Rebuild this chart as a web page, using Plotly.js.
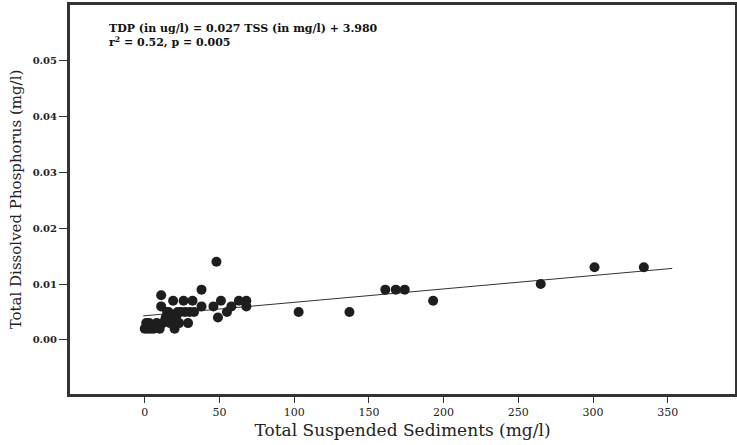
<!DOCTYPE html>
<html>
<head>
<meta charset="utf-8">
<script src="https://cdn.plot.ly/plotly-3.0.1.min.js"></script>
<style>
  html, body { margin: 0; padding: 0; background: #fff; }
  #chart { width: 737px; height: 445px; }
</style>
</head>
<body>
<div id="chart"></div>
<script>
// Total Suspended Sediments (mg/l)
const tss = [0, 1, 2, 3, 4, 6, 8, 10, 11, 11, 12, 14, 15, 16, 17, 18, 19, 20, 21, 22, 23, 24, 26, 27, 29, 30, 32, 33, 38, 38, 46, 48, 49, 51, 55, 58, 63, 68, 68, 103, 137, 161, 168, 174, 193, 265, 301, 334];
// Total Dissolved Phosphorus (mg/l)
const tdp = [0.002, 0.003, 0.002, 0.003, 0.002, 0.002, 0.003, 0.002, 0.006, 0.008, 0.003, 0.004, 0.005, 0.005, 0.003, 0.004, 0.007, 0.002, 0.004, 0.005, 0.003, 0.005, 0.007, 0.005, 0.003, 0.005, 0.007, 0.005, 0.009, 0.006, 0.006, 0.014, 0.004, 0.007, 0.005, 0.006, 0.007, 0.007, 0.006, 0.005, 0.005, 0.009, 0.009, 0.009, 0.007, 0.010, 0.013, 0.013];
// Regression line end points
const fitX = [-1, 353];
const fitY = [0.0043, 0.0128];
const xTicks = [0, 50, 100, 150, 200, 250, 300, 350];
const yTicks = [0.00, 0.01, 0.02, 0.03, 0.04, 0.05];
const yTickText = ['0.00', '0.01', '0.02', '0.03', '0.04', '0.05'];
const equationText = 'TDP (in ug/l) = 0.027 TSS (in mg/l) + 3.980<br>r<sup>2</sup> = 0.52, p = 0.005';

const traces = [
  {
    x: fitX, y: fitY, type: 'scatter', mode: 'lines',
    line: { color: '#333', width: 1 }, hoverinfo: 'skip', showlegend: false
  },
  {
    x: tss, y: tdp, type: 'scatter', mode: 'markers',
    marker: { color: '#1e1e1e', size: 10, line: { width: 0 } }, showlegend: false
  }
];

const layout = {
  width: 737, height: 445,
  margin: { l: 70, r: 2, t: 5, b: 51 },
  paper_bgcolor: '#fff', plot_bgcolor: '#fff',
  showlegend: false,
  xaxis: {
    range: [-50, 395], tickvals: xTicks, ticktext: xTicks.map(String),
    ticks: 'outside', ticklen: 6, tickwidth: 1, tickcolor: '#333',
    showgrid: false, zeroline: false,
    showline: true, linewidth: 3, linecolor: '#333', mirror: true,
    tickfont: { family: 'DejaVu Serif', size: 11, color: '#222' },
    title: { text: 'Total Suspended Sediments (mg/l)', font: { family: 'DejaVu Serif', size: 17, color: '#222' }, standoff: 6 },
    automargin: false
  },
  yaxis: {
    range: [-0.0097, 0.0600], tickvals: yTicks, ticktext: yTickText,
    ticks: 'outside', ticklen: 8, tickwidth: 1, tickcolor: '#333',
    showgrid: false, zeroline: false,
    showline: true, linewidth: 3, linecolor: '#333', mirror: true,
    tickfont: { family: 'DejaVu Serif', size: 10, color: '#222', weight: 'bold' },
    title: { text: 'Total Dissolved Phosphorus (mg/l)', font: { family: 'DejaVu Serif', size: 15, color: '#222' }, standoff: 8 },
    automargin: false
  },
  annotations: [{
    xref: 'paper', yref: 'paper', x: 0.0556, y: 0.962,
    xanchor: 'left', yanchor: 'top', align: 'left', showarrow: false,
    text: equationText,
    font: { family: 'DejaVu Serif', size: 11, color: '#111', weight: 'bold' }
  }]
};

Plotly.newPlot('chart', traces, layout, { displayModeBar: false, staticPlot: true });
</script>
</body>
</html>
